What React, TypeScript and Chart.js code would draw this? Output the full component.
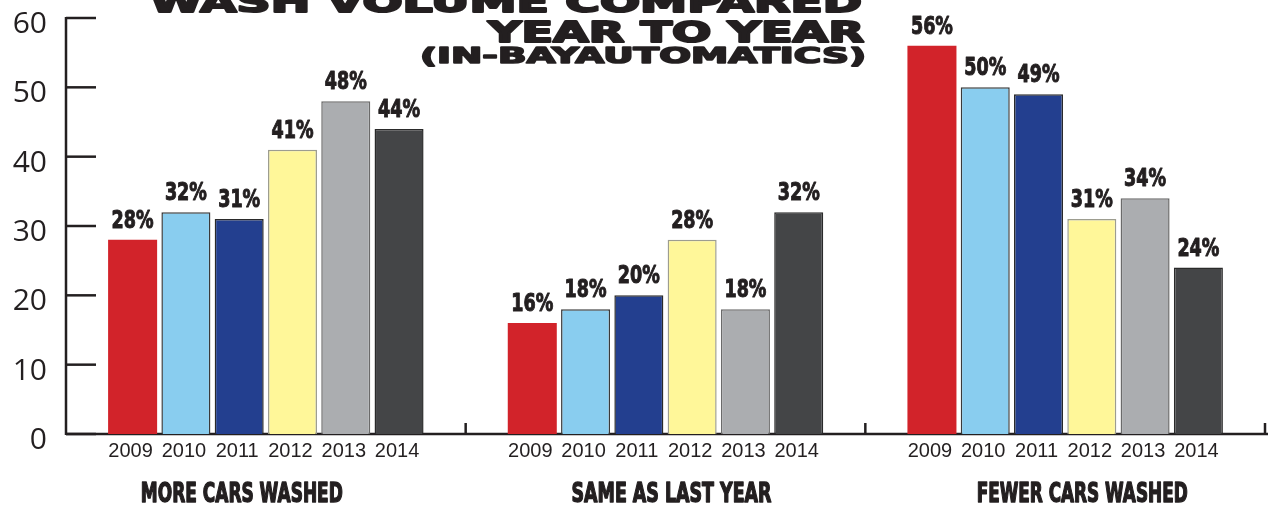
import React, { useEffect, useRef } from "react";
import { Chart, registerables } from "chart.js";

Chart.register(...registerables);

const categories = ["MORE CARS WASHED", "SAME AS LAST YEAR", "FEWER CARS WASHED"];
const years = ["2009", "2010", "2011", "2012", "2013", "2014"];
const values2009 = [28, 16, 56];
const values2010 = [32, 18, 50];
const values2011 = [31, 20, 49];
const values2012 = [41, 28, 31];
const values2013 = [48, 18, 34];
const values2014 = [44, 32, 24];
const seriesValues = [values2009, values2010, values2011, values2012, values2013, values2014];
const yTicks = [0, 10, 20, 30, 40, 50, 60];
const titleLines = ["WASH VOLUME COMPARED", "YEAR TO YEAR", "(IN-BAYAUTOMATICS)"];

const colors = ["#D2232A", "#89CDEF", "#233F8F", "#FFF799", "#ABADB0", "#444547"];
const borderColors = ["#D2232A", "#3a3a3a", "#2a2a2a", "#9d9d90", "#6a6a6a", "#2a2a2a"];

const INK = "#231f20";
const NARROW = "'Liberation Sans Narrow', 'DejaVu Sans Condensed', 'Liberation Sans', sans-serif";

function drawFit(
  ctx: CanvasRenderingContext2D,
  text: string,
  x: number,
  y: number,
  font: string,
  width: number,
  align: CanvasTextAlign,
  stroke: number
) {
  ctx.save();
  ctx.font = font;
  const m = ctx.measureText(text).width;
  const s = width / m;
  ctx.translate(x, y);
  ctx.scale(s, 1);
  ctx.textAlign = align;
  ctx.textBaseline = "alphabetic";
  ctx.fillText(text, 0, 0);
  if (stroke > 0) {
    ctx.lineWidth = stroke;
    ctx.lineJoin = "round";
    ctx.strokeStyle = ctx.fillStyle as string;
    ctx.strokeText(text, 0, 0);
  }
  ctx.restore();
}

const decorPlugin = {
  id: "decor",
  beforeDatasetsDraw(chart: any) {
    const ctx: CanvasRenderingContext2D = chart.ctx;
    const y = chart.scales.y;
    const x = chart.scales.x;
    const area = chart.chartArea;
    ctx.save();
    ctx.strokeStyle = INK;
    ctx.lineWidth = 2.5;
    ctx.lineCap = "butt";
    ctx.beginPath();
    ctx.moveTo(area.left, y.getPixelForValue(60) - 1);
    ctx.lineTo(area.left, y.getPixelForValue(0) + 1);
    ctx.stroke();
    yTicks.forEach((v) => {
      const py = y.getPixelForValue(v);
      ctx.beginPath();
      ctx.moveTo(area.left, py);
      ctx.lineTo(area.left + 30, py);
      ctx.stroke();
    });
    const by = y.getPixelForValue(0);
    ctx.beginPath();
    ctx.moveTo(area.left, by);
    ctx.lineTo(chart.width, by);
    ctx.stroke();
    for (let i = 0; i < categories.length; i++) {
      const px = x.getPixelForValue(i) + (x.getPixelForValue(1) - x.getPixelForValue(0)) / 2;
      ctx.beginPath();
      ctx.moveTo(px, by);
      ctx.lineTo(px, by - 11);
      ctx.stroke();
    }
    ctx.fillStyle = INK;
    ctx.font = "30px 'Open Sans', 'Liberation Sans', sans-serif";
    ctx.textAlign = "right";
    ctx.textBaseline = "alphabetic";
    yTicks.forEach((v) => {
      ctx.fillText(String(v), 47, y.getPixelForValue(v) + 15);
    });
    ctx.restore();
  },
  afterDatasetsDraw(chart: any) {
    const ctx: CanvasRenderingContext2D = chart.ctx;
    const x = chart.scales.x;
    ctx.save();
    ctx.fillStyle = INK;

    const valueFont = "bold 25px " + NARROW;
    ctx.font = valueFont;
    const vScale = 42 / ctx.measureText("28%").width;
    chart.data.datasets.forEach((ds: any, di: number) => {
      const meta = chart.getDatasetMeta(di);
      meta.data.forEach((bar: any, i: number) => {
        const txt = ds.data[i] + "%";
        ctx.save();
        ctx.font = valueFont;
        ctx.translate(bar.x, bar.y - 12);
        ctx.scale(vScale, 1);
        ctx.textAlign = "center";
        ctx.fillText(txt, 0, 0);
        ctx.lineWidth = 1;
        ctx.strokeStyle = INK;
        ctx.lineJoin = "round";
        ctx.strokeText(txt, 0, 0);
        ctx.restore();

        ctx.save();
        ctx.font = "20px 'Liberation Sans', Arial, sans-serif";
        ctx.textAlign = "center";
        ctx.fillText(ds.label, bar.x - 2, 457);
        ctx.restore();
      });
    });

    const groupOffsets = [-24, 6, 17];
    const groupWidths = [202, 200, 211];
    categories.forEach((c, i) => {
      drawFit(ctx, c, x.getPixelForValue(i) + groupOffsets[i], 502, "bold 27px " + NARROW, groupWidths[i], "center", 1.4);
    });

    const tFont = "bold 28px 'DejaVu Sans', sans-serif";
    drawFit(ctx, titleLines[0], 862, 12, tFont, 712, "right", 2);
    drawFit(ctx, titleLines[1], 864, 42, tFont, 376, "right", 2);
    drawFit(ctx, titleLines[2], 866, 63, "bold 22px 'DejaVu Sans', sans-serif", 446, "right", 1.6);

    ctx.restore();
  },
};

export default function App() {
  const ref = useRef<HTMLCanvasElement | null>(null);
  useEffect(() => {
    if (!ref.current) return;
    const chart = new Chart(ref.current, {
      type: "bar",
      data: {
        labels: categories,
        datasets: years.map((yr, i) => ({
          label: yr,
          data: seriesValues[i],
          backgroundColor: colors[i],
          borderColor: borderColors[i],
          borderWidth: i === 0 ? 0 : 1.5,
          categoryPercentage: 0.8,
          barPercentage: 0.92,
        })),
      },
      options: {
        responsive: false,
        animation: false,
        layout: { padding: { left: 66, right: 3, top: 18, bottom: 74 } },
        plugins: {
          legend: { display: false },
          tooltip: { enabled: false },
          title: { display: false },
        },
        scales: {
          x: { display: false },
          y: { display: false, min: 0, max: 60 },
        },
      },
      plugins: [decorPlugin],
    });
    return () => chart.destroy();
  }, []);
  return (
    <div style={{ position: "fixed", left: 0, top: 0, width: 1268, height: 508, background: "#fff" }}>
      <canvas ref={ref} width={1268} height={508} style={{ display: "block" }} />
    </div>
  );
}
